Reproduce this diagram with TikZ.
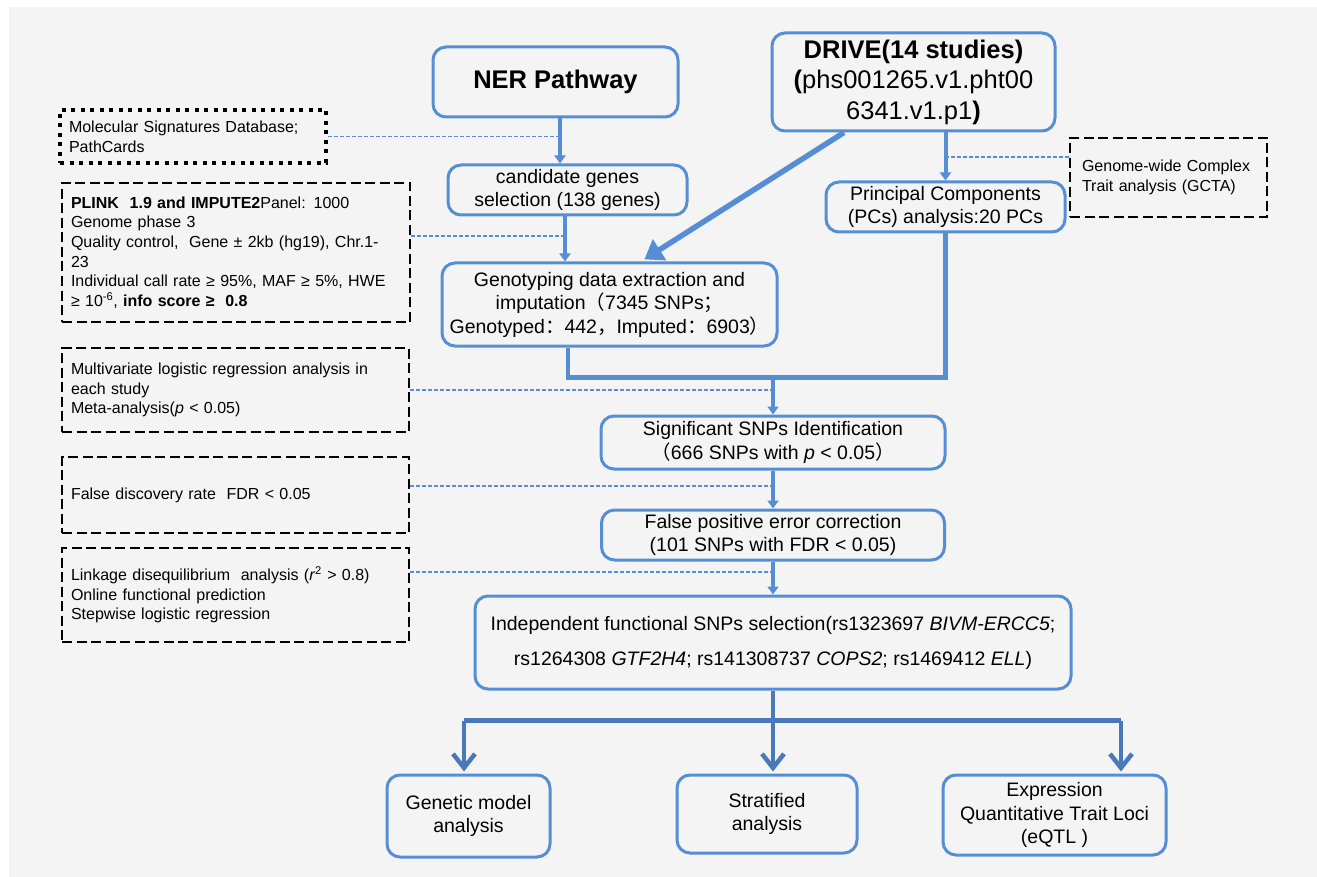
\documentclass[tikz,border=0pt]{standalone}
\usepackage{fontspec}
\setmainfont{Liberation Sans}
\newfontfamily\cjk{Noto Sans CJK SC}
\usetikzlibrary{positioning,calc,arrows.meta}

\definecolor{boxblue}{RGB}{85,142,213}
\definecolor{forkblue}{RGB}{72,122,186}
\definecolor{bggray}{RGB}{244,244,244}

\tikzset{
  stage/.style={draw=boxblue, line width=3pt, rounded corners=13pt, align=center,
    inner sep=0pt, font=\fontsize{19.5}{23.5}\selectfont},
  note/.style={draw=black, line width=2.6pt, dash pattern=on 10pt off 4.5pt,
    align=left, inner xsep=9pt, inner ysep=0pt, font=\fontsize{16}{19.6}\selectfont},
  flow/.style={draw=boxblue, line width=4pt, -{Triangle[length=8pt,width=11pt]}},
  trunk/.style={draw=boxblue, line width=4.5pt},
  fork/.style={draw=forkblue, line width=4.5pt, shorten >=2pt,
    -{Straight Barb[length=14pt,width=22pt]}},
  link/.style={draw=boxblue, line width=1.4pt, dash pattern=on 4pt off 2pt},
}

\begin{document}
\begin{tikzpicture}[x=1pt, y=-1pt]
  \useasboundingbox (0,0) rectangle (1317,877);
  \fill[bggray] (9,7) rectangle (1317,877);

  % Define nodes
  \node[stage, minimum width=245pt, minimum height=70pt,
    font=\fontsize{25.5}{30.5}\selectfont\bfseries] (ner) at (555.5,82) {NER Pathway};
  \node[stage, minimum width=283pt, minimum height=98pt,
    font=\fontsize{25.5}{30.5}\selectfont] (drive) at (913.5,82)
    {\textbf{DRIVE(14 studies)}\\\textbf{(}phs001265.v1.pht00\\6341.v1.p1\textbf{)}};
  \node[stage, minimum width=239pt, minimum height=50pt, below=45pt of ner, xshift=12pt]
    (cand) {candidate genes\\selection (138 genes)};
  \node[stage, minimum width=239pt, minimum height=50pt, below=48pt of drive, xshift=32pt]
    (pcs) {Principal Components\\(PCs) analysis:20 PCs};
  \node[stage, minimum width=335pt, minimum height=83pt, below=45pt of cand, xshift=42pt]
    (geno) {Genotyping data extraction and\\imputation{\cjk （}7345 SNPs{\cjk ；}\\Genotyped{\cjk ：}442{\cjk ，}Imputed{\cjk ：}6903{\cjk ）}};
  \node[stage, minimum width=344pt, minimum height=53pt] (sig) at (773,442.5)
    {Significant SNPs Identification\\{\cjk （}666 SNPs with \textit{p} < 0.05{\cjk ）}};
  \node[stage, minimum width=343pt, minimum height=50pt, below=38pt of sig]
    (fpe) {False positive error correction\\(101 SNPs with FDR < 0.05)};
  \node[stage, minimum width=596pt, minimum height=93pt, below=33pt of fpe,
    font=\fontsize{19.5}{35}\selectfont] (indep)
    {Independent functional SNPs selection(rs1323697 \textit{BIVM-ERCC5};\\rs1264308 \textit{GTF2H4}; rs141308737 \textit{COPS2}; rs1469412 \textit{ELL})};
  \node[stage, minimum width=163pt, minimum height=82pt] (gen) at (468.5,816)
    {Genetic model\\analysis};
  \node[stage, minimum width=180pt, minimum height=78pt] (strat) at (767,814)
    {Stratified\\analysis};
  \node[stage, minimum width=223pt, minimum height=80pt] (eqtl) at (1054.5,815)
    {Expression\\Quantitative Trait Loci\\(eQTL )};

  \node[note, dash pattern=on 4pt off 5.5pt, line width=3.5pt, text width=248pt,
    minimum height=53pt] (mol) at (193,136.5) {Molecular Signatures Database;\\PathCards};
  \node[note, text width=330pt, minimum height=139pt] (plink) at (236,252.5)
    {\textbf{PLINK\ \ 1.9 and IMPUTE2}Panel: 1000\\Genome phase 3\\Quality control,\ \ Gene ± 2kb (hg19), Chr.1-\\23\\Individual call rate ≥ 95\%, MAF ≥ 5\%, HWE\\≥ 10\textsuperscript{-6}, \textbf{info score ≥\ \ 0.8}};
  \node[note, text width=329pt, minimum height=84pt] (multi) at (235.5,390)
    {Multivariate logistic regression analysis in\\each study\\Meta-analysis(\textit{p} < 0.05)};
  \node[note, text width=329pt, minimum height=76pt] (fdr) at (235.5,495)
    {False discovery rate\ \ FDR < 0.05};
  \node[note, text width=329pt, minimum height=94pt] (ld) at (235.5,595)
    {Linkage disequilibrium\ \ analysis (\textit{r}\textsuperscript{2} > 0.8)\\Online functional prediction\\Stepwise logistic regression};
  \node[note, inner xsep=12pt, text width=173pt, minimum height=79pt] (gcta) at (1168.5,177.5)
    {Genome-wide Complex\\Trait analysis (GCTA)};

  % Connect nodes
  \draw[flow] (ner.south) ++(4.5,0) coordinate (a1) -- (a1 |- cand.north);
  \draw[flow] (cand.south) ++(-2.5,0) coordinate (a2) -- (a2 |- geno.north);
  \draw[flow] (pcs.north |- drive.south) coordinate (a3) -- (pcs.north);
  \draw[flow, line width=5.5pt, shorten >=4pt, -{Triangle[length=18pt,width=24pt]}]
    ([xshift=-69.5pt]drive.south) -- ([xshift=31.5pt]geno.north);
  \draw[trunk] ([xshift=-41.5pt]geno.south) -- ++(0,30) coordinate (jl) -| (pcs.south);
  \draw[flow] (jl -| sig.north) -- (sig.north);
  \draw[flow] (sig.south) -- (fpe.north);
  \draw[flow] (fpe.south) -- (indep.north);
  \draw[trunk, draw=forkblue] (indep.south) -- ++(0,30) coordinate (fk);
  \coordinate (fl) at ([xshift=-309pt]fk);
  \coordinate (fr) at ([xshift=348pt]fk);
  \draw[trunk, draw=forkblue] (fl) -- (fr);
  \draw[fork] (fl) -- (fl |- gen.north);
  \draw[fork] (fk) -- (fk |- strat.north);
  \draw[fork] (fr) -- (fr |- eqtl.north);

  % Dashed links
  \coordinate (p1) at ([yshift=16.5pt]plink.east);
  \coordinate (g1) at ([yshift=20.5pt]gcta.west);
  \coordinate (f1) at ([yshift=9pt]fdr.east);
  \coordinate (l1) at ([yshift=23pt]ld.east);
  \draw[link] (mol.east) -- (mol.east -| a1);
  \draw[link] (p1) -- (p1 -| a2);
  \draw[link] (g1) -- (g1 -| a3);
  \draw[link] (multi.east) -- (multi.east -| sig.north);
  \draw[link] (f1) -- (f1 -| sig.north);
  \draw[link] (l1) -- (l1 -| sig.north);
\end{tikzpicture}
\end{document}
